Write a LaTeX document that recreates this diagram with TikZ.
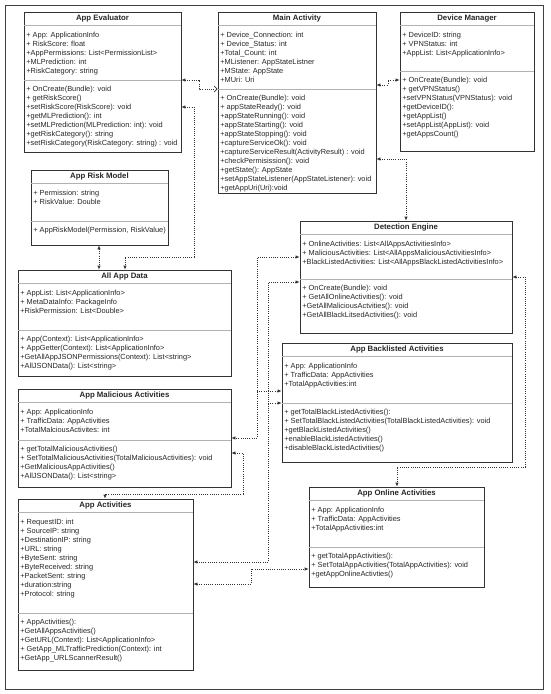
\documentclass[tikz,border=0pt]{standalone}
\usepackage{fontspec}
\setmainfont{Liberation Sans}
\usetikzlibrary{arrows.meta,fit}

\tikzset{
  cls/.style={draw=black!80, line width=0.7pt, inner sep=0pt},
  clsline/.style={draw=black!30, line width=0.6pt},
  clstitle/.style={font=\fontsize{7.8}{9}\selectfont\bfseries, text=black!85},
  clstext/.style={font=\fontsize{7.4}{9}\selectfont, text=black!85, align=left, anchor=north west, inner sep=0pt},
  conn/.style={line width=0.7pt, black!80, dash pattern=on 1pt off 1.2pt, >={Latex[length=4pt,width=3.5pt]}, <->},
}

% name, top left, bottom right, y of the lower divider, title, fields, operations
\newcommand{\umlclass}[7]{%
  \node[cls, fit={(#2) (#3)}] (#1) {};
  \node[clstitle] at ([yshift=-7pt]#1.north) {#5};
  \draw[clsline] ([yshift=-14pt]#1.north west) -- ([yshift=-14pt]#1.north east);
  \draw[clsline] (#1.west |- 0,#4) -- (#1.east |- 0,#4);
  \node[clstext] at ([shift={(2.5pt,-20pt)}]#1.north west) {#6};
  \node[clstext, xshift=2.5pt, yshift=-5.5pt] at (#1.west |- 0,#4) {#7};
}

\begin{document}
\begin{tikzpicture}[x=1pt, y=-1pt]
\useasboundingbox (0,0) rectangle (550,694);
\draw[black!75, line width=0.7pt] (5,5) rectangle (543,689);

\umlclass{ae}{24,12}{181,152}{80}{App Evaluator}
  {+ App: ApplicationInfo\\+ RiskScore: float\\+AppPermissions: List<PermissionList>\\+MLPrediction: int\\+RiskCategory: string}
  {+ OnCreate(Bundle): void\\+ getRiskScore()\\+setRiskScore(RiskScore): void\\+getMLPrediction(): int\\+setMLPrediction(MLPrediction: int): void\\+getRiskCategory(): string\\+setRiskCategory(RiskCategory: string) : void}
\umlclass{ma}{218,12}{376,193}{89}{Main Activity}
  {+ Device\_Connection: int\\+ Device\_Status: int\\+Total\_Count: int\\+MListener: AppStateListner\\+MState: AppState\\+MUri: Uri}
  {+ OnCreate(Bundle): void\\+ appStateReady(): void\\+appStateRunning(): void\\+appStateStarting(): void\\+appStateStopping(): void\\+captureServiceOk(): void\\+captureServiceResult(ActivityResult) : void\\+checkPermisission(): void\\+getState(): AppState\\+setAppStateListener(AppStateListener): void\\+getAppUri(Uri):void}
\umlclass{dm}{400,12}{534,151}{71}{Device Manager}
  {+ DeviceID: string\\+ VPNStatus: int\\+AppList: List<ApplicationInfo>}
  {+ OnCreate(Bundle): void\\+ getVPNStatus()\\+setVPNStatus(VPNStatus): void\\+getDeviceID():\\+getAppList()\\+setAppList(AppList): void\\+getAppsCount()}
\umlclass{arm}{31,170}{168,245}{221}{App Risk Model}
  {+ Permission: string\\+ RiskValue: Double}
  {+ AppRiskModel(Permission, RiskValue)}
\umlclass{aad}{18,270}{231,376}{330}{All App Data}
  {+ AppList: List<ApplicationInfo>\\+ MetaDataInfo: PackageInfo\\+RiskPermission: List<Double>}
  {+ App(Context): List<ApplicationInfo>\\+ AppGetter(Context): List<ApplicationInfo>\\+GetAllAppJSONPermissions(Context): List<string>\\+AllJSONData(): List<string>}
\umlclass{ama}{18,389}{231,487}{440}{App Malicious Activities}
  {+ App: ApplicationInfo\\+ TrafficData: AppActivities\\+TotalMalciousActivites: int}
  {+ getTotalMaliciousActivities()\\+ SetTotalMaliciousActivities(TotalMaliciousActivities): void\\+GetMaliciousAppActivities()\\+AllJSONData(): List<string>}
\umlclass{aa}{18,499}{193,670}{613}{App Activities}
  {+ RequestID: int\\+ SourceIP: string\\+DestinationIP: string\\+URL: string\\+ByteSent: string\\+ByteReceived: string\\+PacketSent: string\\+duration:string\\+Protocol: string}
  {+ AppActivities():\\+GetAllAppsActivities()\\+GetURL(Context): List<ApplicationInfo>\\+ GetApp\_MLTrafficPrediction(Context): int\\+GetApp\_URLScannerResult()}
\umlclass{de}{300,221}{512,333}{279}{Detection Engine}
  {+ OnlineActivities: List<AllAppsActivitiesInfo>\\+ MaliciousActivities: List<AllAppsMaliciousActivitiesInfo>\\+BlackListedActivities: List<AllAppsBlackListedActivitiesInfo>}
  {+ OnCreate(Bundle): void\\+ GetAllOnlineActivities(): void\\+GetAllMaliciousActvities(): void\\+GetAllBlackLitsedActivities(): void}
\umlclass{aba}{282,343}{512,462}{403}{App Backlisted Activities}
  {+ App: ApplicationInfo\\+ TrafficData: AppActivities\\+TotalAppActivities:int}
  {+ getTotalBlackListedActivities():\\+ SetTotalBlackListedActivities(TotalBlackListedActivities): void\\+getBlackListedActivities()\\+enableBlackListedActivities()\\+disableBlackListedActivities()}
\umlclass{aoa}{309,487}{484,587}{547}{App Online Activities}
  {+ App: ApplicationInfo\\+ TrafficData: AppActivities\\+TotalAppActivities:int}
  {+ getTotalAppActivities():\\+ SetTotalAppActivities(TotalAppActivities): void\\+getAppOnlineActivties()}

% links
\draw[conn, {Latex[length=4pt,width=3.5pt]}-{Straight Barb[length=3pt,width=6pt]}] (ae.east |- 0,80) -- (199,80) -- (199,89) -- (ma.west |- 0,89);
\draw[conn] (ae.east |- 0,107) -- (194,107) -- (194,257) -| (aad.north -| 125,0);
\draw[conn] (arm.south -| 99,0) -- (aad.north -| 99,0);
\draw[conn] (ma.east |- 0,85) -- (388,85) -- (388,80) -- (dm.west |- 0,80);
\draw[conn] (ma.east |- 0,159) -| (de.north -| 406,0);
\draw[conn] (de.west |- 0,257) -- (257,257) |- (ama.east |- 0,438);
\draw[conn] (de.west |- 0,282) -- (268,282) |- (aa.east |- 0,562);
\coordinate (j1) at (257,391);
\coordinate (j2) at (268,403);
\draw[conn, -{Latex[length=4pt,width=3.5pt]}] (j1) -- (aba.west |- j1);
\draw[conn, -{Latex[length=4pt,width=3.5pt]}] (j2) -- (aba.west |- j2);
\draw[conn] (de.east |- 0,277) -- (525,277) -- (525,467) -| (aoa.north -| 397,0);
\draw[conn] (ama.east |- 0,453) -- (243,453) -- (243,494) -| (aa.north -| 105,0);
\draw[conn] (aa.east |- 0,584) -- (251,584) -- (251,569) -- (aoa.west |- 0,569);
\end{tikzpicture}
\end{document}
